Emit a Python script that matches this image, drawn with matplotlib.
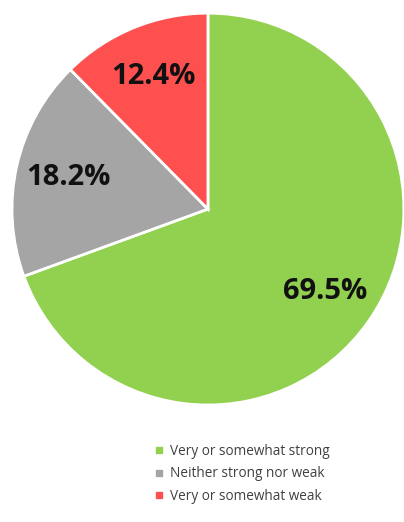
import matplotlib.pyplot as plt
from matplotlib.lines import Line2D

labels = ["Very or somewhat strong", "Neither strong nor weak", "Very or somewhat weak"]
shares = [69.5, 18.2, 12.4]
colors = ["#92D050", "#A5A5A5", "#FF5050"]

fig = plt.figure(figsize=(4.04, 5.22), dpi=100)
ax = fig.add_axes([0.0297, 0.224, 0.970, 0.751])

# show the published percentages as-is (they sum to 100.1)
pct_text = iter(f"{v:.1f}%" for v in shares)
wedges, texts, autotexts = ax.pie(
    shares, colors=colors, startangle=90, counterclock=False,
    autopct=lambda p: next(pct_text), pctdistance=0.73,
    wedgeprops=dict(edgecolor="white", linewidth=2),
    textprops=dict(fontsize=21, fontweight="bold", family="Open Sans", color="#111111"),
)
ax.set_aspect("equal")
ax.set_xlim(-1.0, 1.0)
ax.set_ylim(-1.0, 1.0)

handles = [Line2D([], [], marker="s", linestyle="", markersize=4,
                  markerfacecolor=c, markeredgecolor=c) for c in colors]
fig.legend(handles, labels, loc="upper left", bbox_to_anchor=(0.349, 0.173),
           frameon=False, handlelength=0.8, handletextpad=0.45, labelspacing=0.55,
           prop=dict(family="Open Sans", size=9.8), labelcolor="#404040")

fig.savefig("out.png", dpi=100)
